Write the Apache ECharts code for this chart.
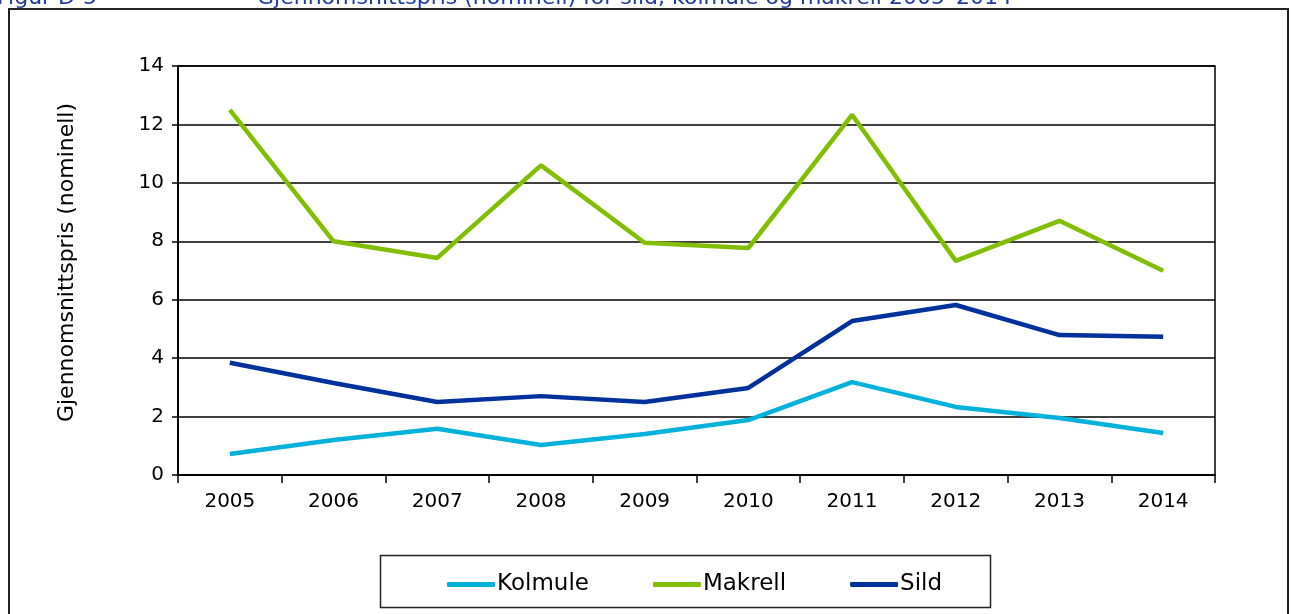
<!DOCTYPE html>
<html>
<head>
<meta charset="utf-8">
<script src="https://cdn.jsdelivr.net/npm/echarts@6/dist/echarts.min.js"></script>
<style>
  html, body { margin: 0; padding: 0; background: #fff; }
  #chart { width: 1291px; height: 614px; }
</style>
</head>
<body>
<div id="chart"></div>
<script>
// data
const years = ['2005', '2006', '2007', '2008', '2009', '2010', '2011', '2012', '2013', '2014']
const kolmule = [0.72, 1.2, 1.58, 1.03, 1.4, 1.88, 3.18, 2.33, 1.95, 1.44]
const makrell = [12.5, 8.0, 7.43, 10.6, 7.95, 7.77, 12.33, 7.33, 8.7, 6.99]
const sild = [3.84, 3.15, 2.5, 2.7, 2.5, 2.98, 5.27, 5.82, 4.79, 4.73]

const font = 'DejaVu Sans, Verdana, sans-serif'
const titleStyle = { color: '#1f3ca0', fontSize: 22, fontWeight: 'normal', fontFamily: font }

const myChart = echarts.init(document.getElementById('chart'))

const option = {
  animation: false,
  textStyle: { fontFamily: font },
  title: [
    { text: 'Figur D-5', left: -3, top: -13, padding: 0, textStyle: titleStyle },
    { text: 'Gjennomsnittspris (nominell) for sild, kolmule og makrell 2005–2014', left: 257, top: -13, padding: 0, textStyle: titleStyle }
  ],
  graphic: [
    { // outer frame
      type: 'rect',
      shape: { x: 9, y: 9, width: 1279, height: 620 },
      style: { fill: 'none', stroke: '#222', lineWidth: 2 },
      z: 0
    },
    { // legend frame
      type: 'rect',
      shape: { x: 380.5, y: 555.5, width: 610, height: 52 },
      style: { fill: '#fff', stroke: '#222', lineWidth: 1.5 },
      z: 1
    }
  ],
  grid: {
    left: 178,
    right: 76,
    top: 66,
    bottom: 139,
    show: true,
    borderColor: '#000',
    borderWidth: 1.5,
    backgroundColor: 'transparent'
  },
  legend: {
    data: ['Kolmule', 'Makrell', 'Sild'],
    left: 442,
    top: 568,
    icon: 'roundRect',
    itemWidth: 48,
    itemHeight: 5,
    itemGap: 64,
    textStyle: { fontSize: 23, color: '#000', fontFamily: font, padding: [0, 0, 0, -3] },
    z: 5
  },
  xAxis: {
    type: 'category',
    data: years,
    boundaryGap: true,
    axisLine: { lineStyle: { color: '#000', width: 2 } },
    axisTick: { show: true, interval: 0, length: 8, lineStyle: { color: '#000', width: 1.5 } },
    axisLabel: { color: '#000', fontSize: 20, margin: 17, fontFamily: font },
    splitLine: { show: false }
  },
  yAxis: {
    type: 'value',
    min: 0,
    max: 14,
    interval: 2,
    name: 'Gjennomsnittspris (nominell)',
    nameLocation: 'middle',
    nameRotate: 90,
    nameGap: 100,
    nameTextStyle: { color: '#000', fontSize: 22, fontFamily: font, padding: [0, 0, 0, 16] },
    axisLine: { show: true, lineStyle: { color: '#000', width: 2 } },
    axisTick: { show: true, length: 6, lineStyle: { color: '#000', width: 1.5 } },
    axisLabel: { color: '#000', fontSize: 20, margin: 14, fontFamily: font },
    splitLine: { show: true, lineStyle: { color: '#000', width: 1.5 } }
  },
  series: [
    {
      name: 'Kolmule',
      type: 'line',
      data: kolmule,
      symbol: 'none',
      itemStyle: { color: '#00b2da' },
      lineStyle: { color: '#00b2da', width: 4.5 },
      z: 3
    },
    {
      name: 'Makrell',
      type: 'line',
      data: makrell,
      symbol: 'none',
      itemStyle: { color: '#82be00' },
      lineStyle: { color: '#82be00', width: 4.5 },
      z: 3
    },
    {
      name: 'Sild',
      type: 'line',
      data: sild,
      symbol: 'none',
      itemStyle: { color: '#00309c' },
      lineStyle: { color: '#00309c', width: 4.5 },
      z: 3
    }
  ]
}

myChart.setOption(option)
</script>
</body>
</html>
